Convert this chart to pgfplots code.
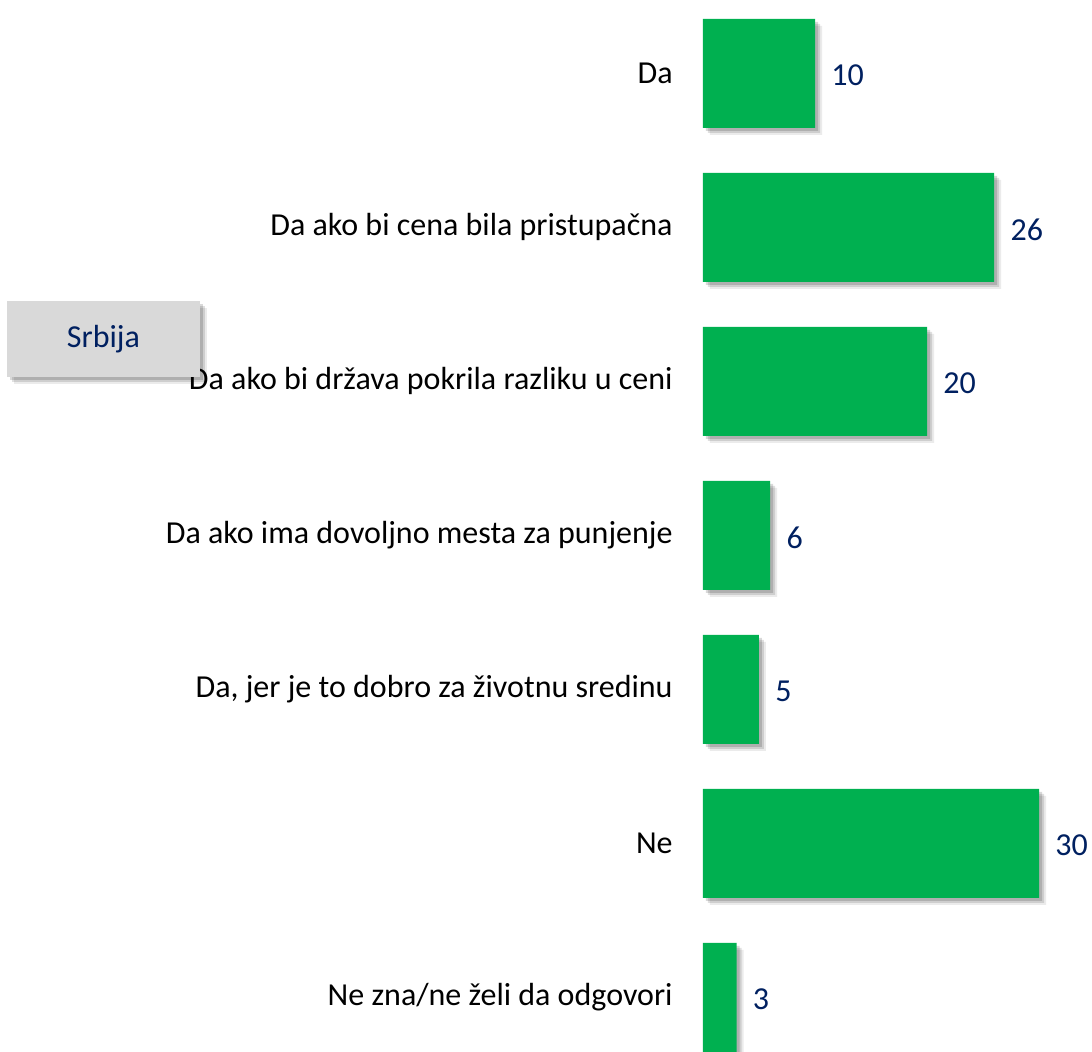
\documentclass[border=0pt]{standalone}
\usepackage{pgfplots}
\pgfplotsset{compat=1.18}
\usepackage{fontspec}
\setmainfont{Carlito}
\usetikzlibrary{shadows}
\definecolor{bargreen}{HTML}{00B050}
\definecolor{lblblue}{HTML}{002060}
\definecolor{boxgray}{HTML}{D9D9D9}
\tikzset{softshadow/.style={
  drop shadow={shadow xshift=3.5pt, shadow yshift=-3.5pt, opacity=0.08, fill=black},
  drop shadow={shadow xshift=2.5pt, shadow yshift=-2.5pt, opacity=0.12, fill=black},
  drop shadow={shadow xshift=1.5pt, shadow yshift=-1.5pt, opacity=0.15, fill=black}}}
\begin{document}
\begin{tikzpicture}
\path[use as bounding box] (-351.5pt,0pt) rectangle (194.5pt,526pt);
\begin{axis}[
  at={(0pt,0pt)}, anchor=south west,
  scale only axis, width=194.5pt, height=526pt,
  xbar, bar width=54.5pt, bar shift=0pt,
  xmin=0, xmax=34.73,
  ymin=-0.477, ymax=6.354, y dir=reverse,
  axis line style={draw=none},
  xtick=\empty,
  ytick={0,1,2,3,4,5,6},
  yticklabels={Da, Da ako bi cena bila pristupačna, Da ako bi država pokrila razliku u ceni, Da ako ima dovoljno mesta za punjenje, {Da, jer je to dobro za životnu sredinu}, Ne, Ne zna/ne želi da odgovori},
  major tick length=0pt,
  yticklabel style={font=\fontsize{16}{19}\selectfont, text=black, anchor=east, inner sep=0pt, xshift=-15pt},
  nodes near coords,
  /pgf/number format/assume math mode=true,
  nodes near coords style={font=\fontsize{16}{19}\selectfont, text=lblblue, anchor=west, inner sep=0pt, xshift=8pt, yshift=-1pt},
  clip=false,
]
\addplot[fill=bargreen, draw=none, softshadow] coordinates {
  (10,0) (26,1) (20,2) (6,3) (5,4) (30,5) (3,6)
};
\end{axis}
\node[fill=boxgray, minimum width=96.5pt, minimum height=38pt, inner sep=0pt, text=lblblue, font=\fontsize{16}{19}\selectfont,
  softshadow]
  at (-299.75pt,356.5pt) {Srbija};
\end{tikzpicture}
\end{document}
